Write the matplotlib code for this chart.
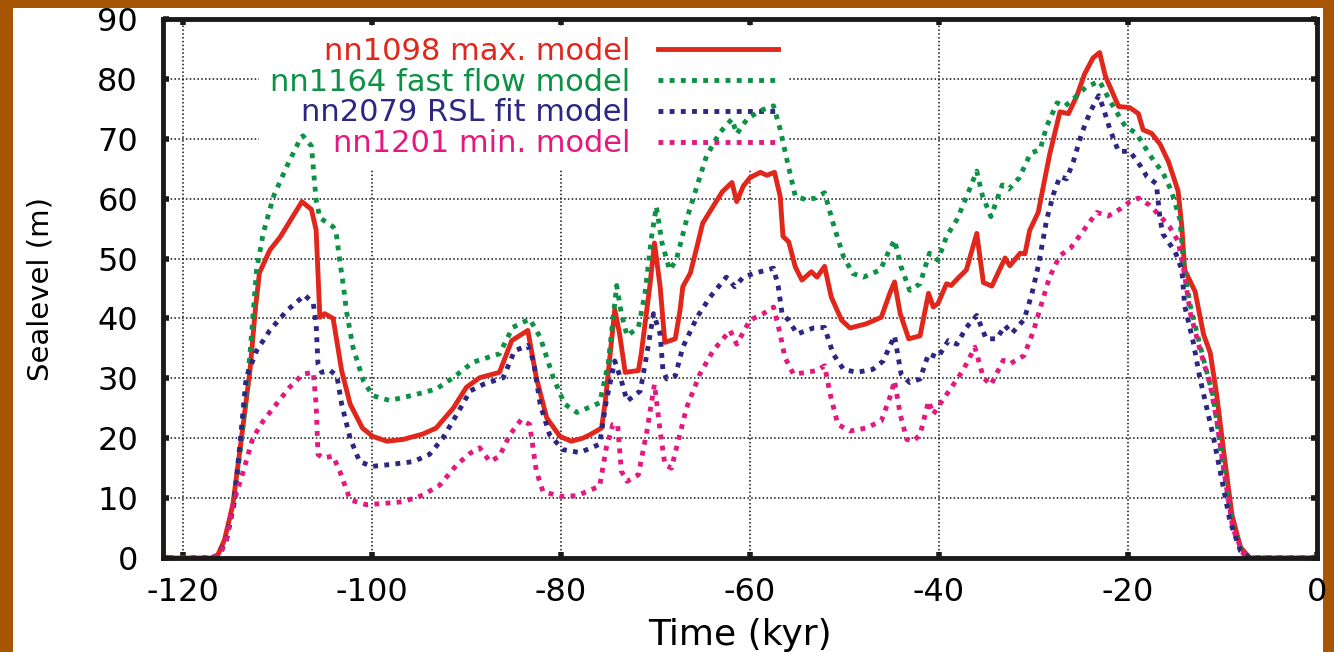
import matplotlib
matplotlib.use('Agg')
import matplotlib.pyplot as plt
from matplotlib.patches import Rectangle

plt.rcParams['axes.unicode_minus'] = False
plt.rc('font', family='DejaVu Sans')

# DADOS
t_max = [-121.5, -117.0, -116.3, -115.6, -114.7, -113.8, -112.9, -112.3, -111.9, -110.8,
         -109.7, -107.4, -106.4, -105.9, -105.5, -105.0, -104.1, -103.2, -102.3, -101.0,
         -99.9, -98.4, -96.7, -94.6, -93.2, -91.4, -90.0, -88.6, -86.5, -85.2,
         -83.5, -82.6, -81.5, -80.1, -78.9, -77.7, -76.9, -75.7, -75.3, -74.3,
         -73.8, -73.2, -71.8, -71.5, -70.6, -70.1, -69.5, -69.0, -67.9, -67.4,
         -67.1, -66.3, -65.6, -65.0, -63.9, -62.9, -61.9, -61.4, -60.7, -60.0,
         -58.9, -58.2, -57.4, -56.8, -56.5, -55.9, -55.2, -54.5, -53.5, -52.9,
         -52.1, -51.4, -50.3, -49.4, -47.7, -46.1, -45.2, -44.7, -44.1, -43.2,
         -42.0, -41.1, -40.6, -40.1, -39.2, -38.7, -38.0, -37.1, -36.0, -35.3,
         -34.4, -33.0, -32.5, -31.4, -30.9, -30.4, -29.5, -28.3, -27.2, -26.3,
         -25.4, -24.6, -23.7, -23.0, -22.4, -21.0, -19.8, -18.9, -18.4, -17.5,
         -16.6, -15.7, -14.7, -14.3, -14.0, -12.9, -12.0, -11.3, -10.6, -9.9,
         -9.0, -8.1, -7.1, 0.0]
sl_max = [0, 0, 0.5, 3, 9, 20, 31.3, 42, 47.6, 51.4,
          53.6, 59.5, 58.2, 54.8, 40.2, 40.8, 40.0, 31.3, 25.7, 21.7,
          20.3, 19.5, 19.8, 20.7, 21.7, 25.0, 28.5, 30.1, 31.0, 36.3,
          38.0, 30.1, 23.4, 20.3, 19.5, 20.0, 20.6, 21.7, 26.2, 41.5,
          37.5, 31.0, 31.3, 34.1, 45.3, 52.6, 45.3, 36.0, 36.6, 41.3,
          45.3, 47.6, 52.0, 55.9, 58.7, 61.2, 62.7, 59.5, 62.1, 63.5,
          64.4, 63.9, 64.4, 60.4, 53.7, 52.8, 48.6, 46.4, 47.8, 46.9,
          48.7, 43.6, 39.7, 38.4, 39.1, 40.2, 44.2, 46.1, 40.8, 36.6,
          37.1, 44.2, 41.9, 42.5, 45.8, 45.5, 46.7, 48.1, 54.2, 46.0,
          45.4, 50.1, 48.8, 50.9, 50.8, 54.7, 57.7, 67.3, 74.5, 74.2,
          77.2, 80.8, 83.5, 84.4, 80.5, 75.4, 75.2, 74.2, 71.5, 70.9,
          69.1, 66.1, 61.3, 55.3, 48.1, 44.5, 37.3, 34.3, 27.1, 18.1,
          7.2, 1.8, 0, 0]

t_fast = [-121.5, -117.0, -116.2, -115.4, -114.6, -113.7, -112.9, -112.2, -111.5, -110.4,
          -109.0, -107.6, -107.3, -106.4, -105.9, -105.5, -104.1, -103.8, -103.4, -103.0,
          -102.7, -102.0, -100.9, -99.9, -98.1, -95.6, -93.2, -91.4, -89.3, -86.5,
          -85.1, -83.3, -82.2, -80.8, -79.6, -78.3, -75.9, -75.0, -74.1, -73.6,
          -73.0, -71.8, -71.1, -70.4, -69.9, -69.3, -68.5, -67.8, -66.7, -65.6,
          -64.6, -63.2, -61.9, -61.4, -60.3, -58.9, -57.5, -56.8, -56.1, -55.2,
          -54.0, -53.1, -52.1, -51.2, -50.1, -49.1, -48.0, -46.2, -45.4, -44.7,
          -44.0, -43.1, -42.0, -41.0, -40.1, -39.2, -38.1, -36.9, -36.0, -35.4,
          -34.5, -33.3, -32.6, -31.5, -30.3, -29.3, -28.6, -27.5, -26.7, -25.4,
          -24.4, -23.0, -21.9, -20.3, -19.1, -17.7, -16.3, -15.4, -14.5, -14.1,
          -13.4, -12.0, -11.0, -9.9, -8.9, -7.8, -6.8, 0.0]
sl_fast = [0, 0, 0.5, 3, 9, 21, 34, 48.1, 54.2, 60.4,
           65.4, 69.9, 70.5, 68.8, 59.8, 56.8, 55.3, 54.5, 49.7, 45.3,
           41.3, 35.2, 29.6, 27.1, 26.3, 27.2, 28.2, 30.1, 32.7, 34.1,
           38.5, 39.9, 36.9, 30.1, 25.7, 24.3, 25.9, 32.4, 45.5, 40.8,
           37.1, 38.5, 44.2, 53.7, 58.7, 52.6, 48.1, 49.7, 56.5, 62.1,
           67.1, 71.0, 73.3, 70.8, 73.3, 74.7, 75.5, 71.6, 66.6, 60.4,
           59.8, 60.1, 61.0, 55.9, 50.3, 47.5, 46.9, 48.1, 50.9, 53.1,
           48.6, 44.7, 45.8, 50.9, 49.7, 53.7, 56.5, 61.0, 64.6, 60.5,
           57.0, 62.3, 61.6, 63.5, 67.6, 68.2, 72.1, 76.0, 75.4, 77.2,
           78.7, 79.6, 76.3, 72.1, 70.9, 67.3, 64.3, 61.3, 56.5, 48.7,
           42.1, 33.1, 27.1, 15.1, 4.9, 0.7, 0, 0]

t_rsl = [-121.5, -117.0, -116.2, -115.4, -114.6, -113.9, -113.3, -112.2, -110.8, -109.0,
         -107.1, -106.2, -105.9, -105.7, -105.3, -104.4, -103.7, -103.2, -102.3, -101.3,
         -100.0, -98.1, -95.6, -93.9, -92.5, -91.0, -89.6, -88.2, -86.1, -84.9,
         -83.5, -82.9, -82.2, -81.2, -79.8, -78.0, -75.9, -75.2, -74.3, -73.6,
         -73.0, -71.6, -70.9, -70.2, -69.5, -69.2, -68.8, -67.9, -67.1, -65.6,
         -64.2, -62.5, -61.6, -60.7, -59.6, -57.5, -57.0, -56.6, -55.9, -55.0,
         -53.3, -52.1, -51.2, -50.1, -48.7, -47.0, -45.9, -44.7, -44.0, -43.1,
         -42.0, -41.1, -40.1, -39.0, -38.1, -37.1, -36.0, -35.0, -33.9, -33.0,
         -32.3, -31.0, -30.2, -29.5, -28.6, -27.9, -27.2, -26.5, -25.8, -24.9,
         -24.0, -23.1, -22.6, -21.9, -21.0, -19.8, -18.7, -18.0, -17.0, -16.6,
         -16.3, -15.0, -14.3, -14.0, -13.1, -12.4, -11.7, -11.0, -10.1, -9.2,
         -8.1, -7.1, 0.0]
sl_rsl = [0, 0, 0.5, 3, 9, 20, 30.1, 34.6, 38.0, 41.3,
          43.9, 42.5, 39.1, 32.4, 31.0, 31.3, 30.4, 25.7, 20.0, 16.1,
          15.3, 15.6, 16.1, 17.3, 20.0, 24.0, 27.9, 29.0, 30.1, 34.6,
          35.5, 32.9, 25.7, 20.6, 18.1, 17.6, 19.0, 26.2, 32.9, 29.6,
          26.2, 27.9, 34.1, 40.8, 37.4, 31.3, 29.9, 30.4, 35.2, 40.2,
          43.6, 46.9, 45.3, 46.9, 47.5, 48.4, 45.3, 40.8, 39.7, 37.4,
          38.4, 38.5, 34.1, 31.5, 31.0, 31.5, 32.9, 37.1, 30.7, 29.3,
          29.9, 34.1, 33.5, 36.3, 35.7, 38.5, 40.5, 36.6, 36.6, 38.8,
          37.5, 39.8, 43.9, 48.7, 56.5, 60.7, 63.7, 63.3, 66.1, 70.9,
          74.5, 77.2, 75.1, 71.5, 67.9, 67.9, 65.5, 63.7, 62.5, 56.5,
          54.1, 51.1, 48.1, 42.1, 36.1, 30.1, 25.3, 20.5, 13.3, 6.1,
          1.2, 0, 0]

t_min = [-121.5, -117.0, -116.1, -115.4, -114.7, -113.6, -112.6, -111.5, -110.1, -108.7,
         -107.3, -106.2, -105.9, -105.7, -105.2, -104.1, -103.4, -102.3, -100.6, -98.8,
         -96.7, -94.6, -92.8, -91.0, -89.6, -88.6, -87.5, -86.5, -85.4, -84.2,
         -83.3, -82.6, -81.9, -80.1, -78.3, -75.9, -75.2, -74.5, -74.0, -73.6,
         -73.0, -71.8, -70.9, -70.1, -69.5, -69.0, -68.3, -67.6, -66.7, -65.3,
         -63.9, -62.1, -61.4, -60.0, -58.6, -57.5, -56.8, -56.3, -55.4, -54.0,
         -52.9, -52.1, -51.5, -50.7, -49.4, -47.7, -46.1, -45.2, -44.7, -44.1,
         -43.4, -42.7, -42.0, -41.1, -40.6, -39.9, -38.8, -37.6, -37.1, -36.2,
         -35.3, -34.5, -33.2, -32.4, -31.0, -30.0, -29.1, -28.3, -27.2, -26.1,
         -24.7, -23.3, -22.1, -20.8, -19.8, -18.9, -17.7, -16.6, -15.6, -14.7,
         -14.1, -13.4, -12.4, -11.3, -10.6, -9.9, -8.9, -7.8, -6.8, 0.0]
sl_min = [0, 0, 0.5, 3, 8.9, 14.5, 20.0, 22.9, 25.7, 28.5,
          30.7, 31.0, 25.7, 17.3, 16.7, 17.0, 14.5, 9.7, 8.9, 9.1,
          9.4, 10.5, 12.2, 15.6, 17.5, 18.4, 16.1, 17.0, 20.6, 23.1,
          22.3, 14.5, 11.1, 10.3, 10.4, 12.0, 18.4, 22.3, 22.3, 14.5,
          12.8, 13.9, 21.2, 29.0, 21.2, 15.6, 15.0, 19.5, 25.1, 30.7,
          34.6, 38.0, 35.7, 39.7, 40.8, 41.9, 37.4, 33.5, 30.7, 31.0,
          31.3, 32.1, 27.3, 22.3, 21.2, 21.7, 22.9, 26.8, 29.6, 24.0,
          19.8, 19.5, 20.6, 26.2, 24.0, 25.7, 28.2, 31.0, 32.4, 35.2,
          30.1, 28.9, 33.0, 32.5, 33.8, 37.9, 42.7, 46.9, 50.5, 51.7,
          54.7, 57.7, 57.1, 58.3, 59.5, 60.1, 58.9, 57.1, 55.3, 52.9,
          48.1, 40.9, 34.9, 28.9, 22.9, 15.1, 4.9, 0.7, 0, 0]

rotulos = ['nn1098 max. model', 'nn1164 fast flow model',
           'nn2079 RSL fit model', 'nn1201 min. model']
cores = ['#e1261c', '#0c9145', '#2e2683', '#e4197f']
xticks = [-120, -100, -80, -60, -40, -20, 0]
yticks = [0, 10, 20, 30, 40, 50, 60, 70, 80, 90]

# FIGURA
fig = plt.figure(figsize=(13.34, 6.52), dpi=100, facecolor='#a85604')
fig.patches.append(Rectangle((13/1334, 0), 1310/1334, 644/652, transform=fig.transFigure,
                             facecolor='white', edgecolor='none', zorder=-5))
ax = fig.add_axes([163/1334, 1 - 558/652, 1154/1334, 539/652])

pont = (0, (1.0, 1.3))
ax.plot(t_max, sl_max, color=cores[0], lw=3.5, label=rotulos[0])
ax.plot(t_fast, sl_fast, color=cores[1], lw=3.5, ls=pont, label=rotulos[1])
ax.plot(t_rsl, sl_rsl, color=cores[2], lw=3.5, ls=pont, label=rotulos[2])
ax.plot(t_min, sl_min, color=cores[3], lw=3.5, ls=pont, label=rotulos[3])

ax.set_xlim(-122.1, 0)
ax.set_ylim(0, 90)
ax.set_xticks(xticks)
ax.set_yticks(yticks)
ax.set_axisbelow(True)
ax.grid(True, color='#111111', lw=1.1, ls=(0, (1, 1.5)))
for s in ax.spines.values():
    s.set_linewidth(3.5)
    s.set_color('#1c1a18')
ax.tick_params(direction='in', length=4.5, width=4, color='#1c1a18',
               top=True, right=True, labelsize=23)
ax.tick_params(axis='x', pad=14)
ax.tick_params(axis='y', pad=18)

ax.set_xlabel('Time (kyr)', fontsize=26)
ax.xaxis.set_label_coords(0.5, -0.112)
ax.set_ylabel('Sealevel (m)', fontsize=21)
ax.yaxis.set_label_coords(-0.094, 0.5)

leg = ax.legend(loc='upper right', bbox_to_anchor=(0.5425, 0.987), borderaxespad=0,
                markerfirst=False, labelcolor='linecolor', fontsize=22,
                frameon=True, fancybox=False, edgecolor='none', facecolor='white',
                framealpha=1, handlelength=3.95, handletextpad=0.9,
                labelspacing=0.06, borderpad=0.35)
leg.set_zorder(1.5)

fig.savefig('out.png', dpi=100, facecolor=fig.get_facecolor())
